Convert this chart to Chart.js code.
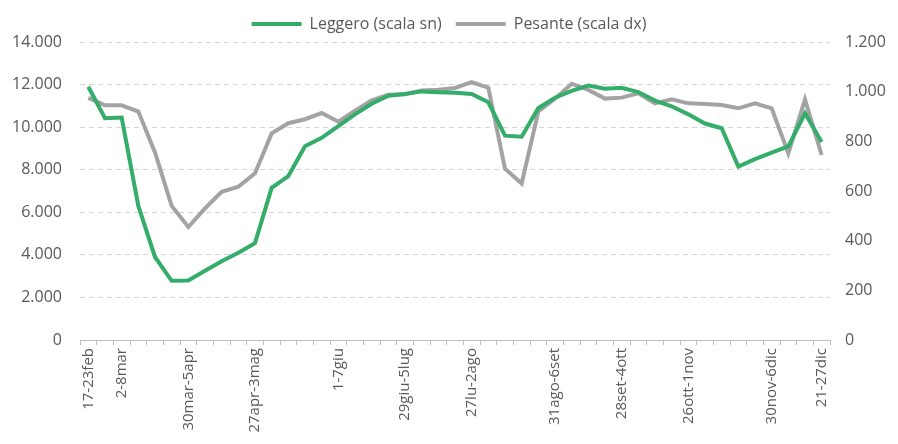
<!DOCTYPE html>
<html>
<head>
<meta charset="utf-8">
<script src="https://cdn.jsdelivr.net/npm/chart.js@4.4.1/dist/chart.umd.min.js"></script>
<style>
  html, body { margin: 0; padding: 0; background: #fff; }
  #wrap { width: 898px; height: 444px; }
</style>
</head>
<body>
<div id="wrap"><canvas id="trafficChart"></canvas></div>
<script>
// Weekly periods (only some are labelled on the axis)
const weeks = [
    '17-23feb', '24feb-1mar', '2-8mar', '9-15mar', '16-22mar', '23-29mar', '30mar-5apr',
    '6-12apr', '13-19apr', '20-26apr', '27apr-3mag', '4-10mag', '11-17mag', '18-24mag',
    '25-31mag', '1-7giu', '8-14giu', '15-21giu', '22-28giu', '29giu-5lug', '6-12lug',
    '13-19lug', '20-26lug', '27lu-2ago', '3-9ago', '10-16ago', '17-23ago', '24-30ago',
    '31ago-6set', '7-13set', '14-20set', '21-27set', '28set-4ott', '5-11ott', '12-18ott',
    '19-25ott', '26ott-1nov', '2-8nov', '9-15nov', '16-22nov', '23-29nov', '30nov-6dic',
    '7-13dic', '14-20dic', '21-27dic'
];
const shownWeeks = [0, 2, 6, 10, 15, 19, 23, 28, 32, 36, 41, 44];

// Leggero - left scale
const leggero = [
    11900, 10420, 10450, 6300, 3900, 2780, 2800, 3250, 3700, 4100,
    4550, 7150, 7700, 9100, 9500, 10050, 10600, 11100, 11480, 11560,
    11680, 11640, 11620, 11560, 11170, 9600, 9550, 10900, 11380, 11700,
    11950, 11800, 11850, 11650, 11250, 10980, 10600, 10170, 9950, 8150,
    8500, 8800, 9100, 10650, 9300
];

// Pesante - right scale
const pesante = [
    975, 945, 945, 920, 755, 540, 455, 530, 597, 617,
    671, 832, 873, 889, 914, 879, 923, 965, 988, 990,
    1005, 1008, 1015, 1038, 1016, 690, 630, 920, 972, 1032,
    1007, 972, 976, 993, 953, 969, 953, 950, 946, 933,
    953, 933, 752, 969, 745
];

const leftTicks = [0, 2000, 4000, 6000, 8000, 10000, 12000, 14000];
const rightTicks = [0, 200, 400, 600, 800, 1000, 1200];

function fmt(v) {
    return String(v).replace(/\B(?=(\d{3})+(?!\d))/g, '.');
}

const textColor = '#595959';
const fontFamily = '"Open Sans", sans-serif';

new Chart(document.getElementById('trafficChart'), {
    type: 'line',
    data: {
        labels: weeks,
        datasets: [
            {
                label: 'Leggero (scala sn)',
                data: leggero,
                yAxisID: 'y',
                borderColor: '#33ad69',
                backgroundColor: '#33ad69',
                borderWidth: 4,
                pointRadius: 0,
                tension: 0
            },
            {
                label: 'Pesante (scala dx)',
                data: pesante,
                yAxisID: 'y1',
                borderColor: '#a3a3a3',
                backgroundColor: '#a3a3a3',
                borderWidth: 4,
                pointRadius: 0,
                tension: 0
            }
        ]
    },
    options: {
        responsive: true,
        maintainAspectRatio: false,
        animation: false,
        layout: {
            padding: { top: 2, right: 0, left: 0, bottom: 0 }
        },
        plugins: {
            tooltip: { enabled: false },
            legend: {
                position: 'top',
                labels: {
                    boxWidth: 50,
                    boxHeight: 4,
                    padding: 14,
                    color: textColor,
                    font: { family: fontFamily, size: 16 },
                    generateLabels: function(chart) {
                        const items = Chart.defaults.plugins.legend.labels.generateLabels(chart);
                        items.forEach(item => { item.lineWidth = 0; });
                        return items;
                    }
                }
            }
        },
        scales: {
            x: {
                offset: true,
                grid: {
                    offset: true,
                    drawOnChartArea: false,
                    drawTicks: true,
                    tickLength: 5,
                    color: '#bfbfbf'
                },
                border: { display: true, color: '#bfbfbf', width: 1 },
                ticks: {
                    autoSkip: false,
                    minRotation: 90,
                    maxRotation: 90,
                    padding: 3,
                    color: textColor,
                    font: { family: fontFamily, size: 15 },
                    callback: function(value, index) {
                        return shownWeeks.includes(index) ? weeks[index] : '';
                    }
                },
                afterFit: function(scale) { scale.height = 104; }
            },
            y: {
                position: 'left',
                min: 0,
                max: 14000,
                afterBuildTicks: function(axis) {
                    axis.ticks = leftTicks.map(v => ({ value: v }));
                },
                grid: {
                    color: '#d4d4d4',
                    drawTicks: false
                },
                border: { display: false, dash: [5, 4] },
                ticks: {
                    padding: 18,
                    color: textColor,
                    font: { family: fontFamily, size: 16 },
                    callback: v => fmt(v)
                },
                afterFit: function(scale) { scale.width = 80; }
            },
            y1: {
                position: 'right',
                min: 0,
                max: 1200,
                afterBuildTicks: function(axis) {
                    axis.ticks = rightTicks.map(v => ({ value: v }));
                },
                grid: { drawOnChartArea: false, drawTicks: false },
                border: { display: false },
                ticks: {
                    padding: 15,
                    color: textColor,
                    font: { family: fontFamily, size: 16 },
                    callback: v => fmt(v)
                },
                afterFit: function(scale) { scale.width = 68; }
            }
        }
    }
});
</script>
</body>
</html>
